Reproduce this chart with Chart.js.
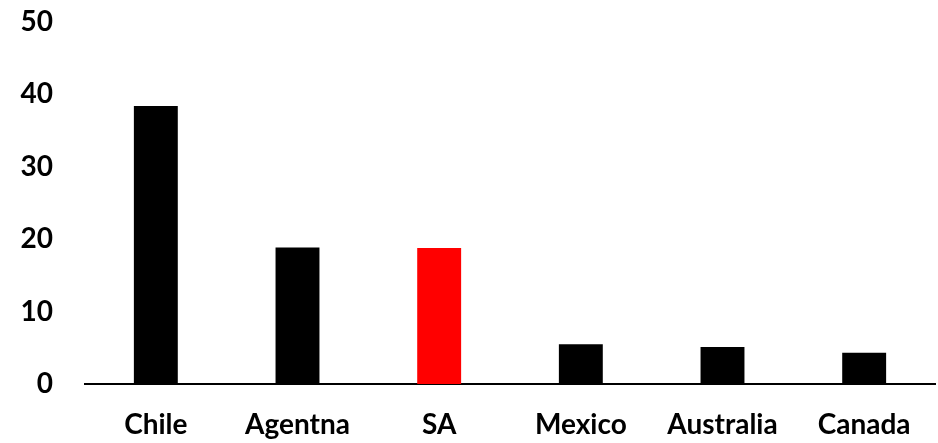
<!DOCTYPE html>
<html>
<head>
<meta charset="utf-8">
<script src="https://cdn.jsdelivr.net/npm/chart.js@4"></script>
<style>
  html, body { margin: 0; padding: 0; background: #ffffff; }
  #wrap { width: 938px; height: 443px; position: relative; }
</style>
</head>
<body>
<div id="wrap"><canvas id="chart"></canvas></div>
<script>
// Countries on the horizontal axis
const categories = ['Chile', 'Agentna', 'SA', 'Mexico', 'Australia', 'Canada'];
// Bar values
const values = [38.4, 18.85, 18.8, 5.5, 5.1, 4.3];
// Bar fill per country (SA highlighted)
const barColors = ['#000000', '#000000', '#ff0000', '#000000', '#000000', '#000000'];
// Vertical axis range and step
const yMin = 0;
const yMax = 50;
const yStep = 10;

const labelFont = { family: 'Lato', size: 28, weight: 'bold' };

new Chart(document.getElementById('chart'), {
  type: 'bar',
  data: {
    labels: categories,
    datasets: [{
      data: values,
      backgroundColor: barColors,
      borderWidth: 0,
      categoryPercentage: 1.0,
      barPercentage: 0.31
    }]
  },
  options: {
    responsive: true,
    maintainAspectRatio: false,
    animation: false,
    layout: { padding: { top: 22, right: 3, left: 0, bottom: 0 } },
    plugins: {
      legend: { display: false },
      tooltip: { enabled: false }
    },
    scales: {
      x: {
        grid: { display: false, drawTicks: false },
        border: { display: true, color: '#000000', width: 2 },
        ticks: { color: '#000000', font: labelFont, padding: 24, maxRotation: 0 },
        afterFit: (scale) => { scale.height = 59; }
      },
      y: {
        min: yMin,
        max: yMax,
        grid: { display: false, drawTicks: false },
        border: { display: false },
        ticks: { stepSize: yStep, color: '#000000', font: labelFont, padding: 32 },
        afterFit: (scale) => {
          scale.width = 85;
          // the top label may overhang the plot; the page padding gives it room
          scale.paddingTop = 0;
          scale.paddingBottom = 0;
        }
      }
    }
  }
});
</script>
</body>
</html>
